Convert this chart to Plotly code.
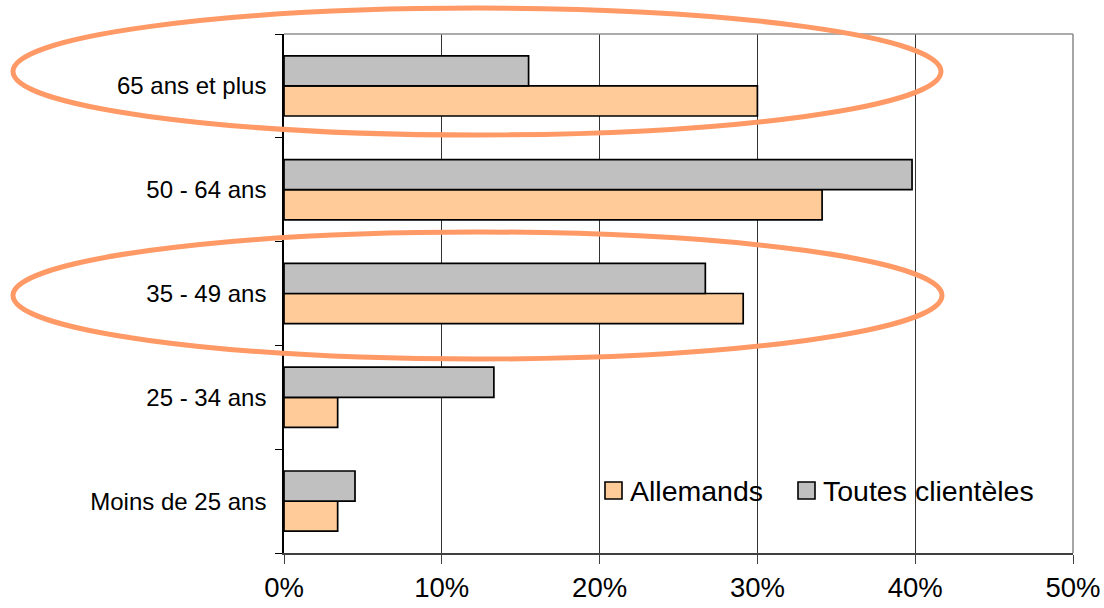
import plotly.graph_objects as go

# Age groups, listed bottom to top
age_groups = ["Moins de 25 ans", "25 - 34 ans", "35 - 49 ans", "50 - 64 ans", "65 ans et plus"]
# Share of each age group (%)
allemands = [3.4, 3.4, 29.1, 34.1, 30.0]
toutes_clienteles = [4.5, 13.3, 26.7, 39.8, 15.5]
x_ticks = [0, 10, 20, 30, 40, 50]
x_tick_labels = ["0%", "10%", "20%", "30%", "40%", "50%"]

ORANGE = "#FFCC99"
GRAY = "#C0C0C0"
HIGHLIGHT = "#FF9966"
FONT = "Liberation Sans, Arial, sans-serif"

fig = go.Figure()
fig.add_trace(go.Bar(
    y=age_groups, x=allemands, orientation="h", name="Allemands",
    marker=dict(color=ORANGE, line=dict(color="black", width=1.7)),
    showlegend=False,
))
fig.add_trace(go.Bar(
    y=age_groups, x=toutes_clienteles, orientation="h", name="Toutes clientèles",
    marker=dict(color=GRAY, line=dict(color="black", width=1.7)),
    showlegend=False,
))

fig.update_layout(
    width=1104, height=608,
    margin=dict(l=284, r=31, t=34, b=55),
    paper_bgcolor="white", plot_bgcolor="white",
    barmode="group", bargap=0.42, bargroupgap=0,
    font=dict(family=FONT, color="black"),
)

fig.update_xaxes(
    range=[0, 50], tickvals=x_ticks, ticktext=x_tick_labels,
    showgrid=True, gridcolor="#333333", gridwidth=1.2,
    zeroline=False, automargin=False,
    showline=True, linecolor="#404040", linewidth=1.6,
    ticks="outside", ticklen=9, tickcolor="#404040", tickwidth=1.2,
    tickfont=dict(size=27.5, family=FONT, color="black"),
    fixedrange=True,
)
fig.update_yaxes(
    categoryorder="array", categoryarray=age_groups,
    showgrid=False, zeroline=False, automargin=False,
    showline=True, linecolor="black", linewidth=1.6,
    ticks="outside", tickson="boundaries", ticklen=7, tickcolor="black", tickwidth=1.2,
    tickfont=dict(size=24, family=FONT, color="black"),
    ticklabelstandoff=11,
    fixedrange=True,
)

shapes = [
    # plot-area frame (top and right)
    dict(type="line", xref="paper", yref="paper", x0=0, x1=1, y0=1, y1=1,
         line=dict(color="#909090", width=1.6), layer="above"),
    dict(type="line", xref="paper", yref="paper", x0=1, x1=1, y0=0, y1=1,
         line=dict(color="#909090", width=1.6), layer="above"),
    # highlight ellipses around "65 ans et plus" and "35 - 49 ans"
    dict(type="circle", xref="paper", yref="paper",
         x0=-0.3435, x1=0.8327, y0=0.8054, y1=1.050,
         line=dict(color=HIGHLIGHT, width=5), layer="above"),
    dict(type="circle", xref="paper", yref="paper",
         x0=-0.3435, x1=0.834, y0=0.3738, y1=0.6185,
         line=dict(color=HIGHLIGHT, width=5), layer="above"),
]

# Legend drawn as swatches with labels inside the plot area
legend_items = [("Allemands", ORANGE, 605), ("Toutes clientèles", GRAY, 798)]
annotations = []
W, H, L = 789, 519, 284
for label, color, px in legend_items:
    x0 = (px - L) / W
    x1 = (px + 17 - L) / W
    y0 = (553 - 499) / H
    y1 = (553 - 482) / H
    shapes.append(dict(type="rect", xref="paper", yref="paper", x0=x0, x1=x1, y0=y0, y1=y1,
                       fillcolor=color, line=dict(color="black", width=1.6), layer="above"))
    annotations.append(dict(
        xref="paper", yref="paper", x=(px + 23 - L) / W, y=(553 - 491) / H,
        text=label, showarrow=False, xanchor="left", yanchor="middle",
        font=dict(size=28.5, family=FONT, color="black"),
    ))

fig.update_layout(shapes=shapes, annotations=annotations)

fig.write_html("out.html")
